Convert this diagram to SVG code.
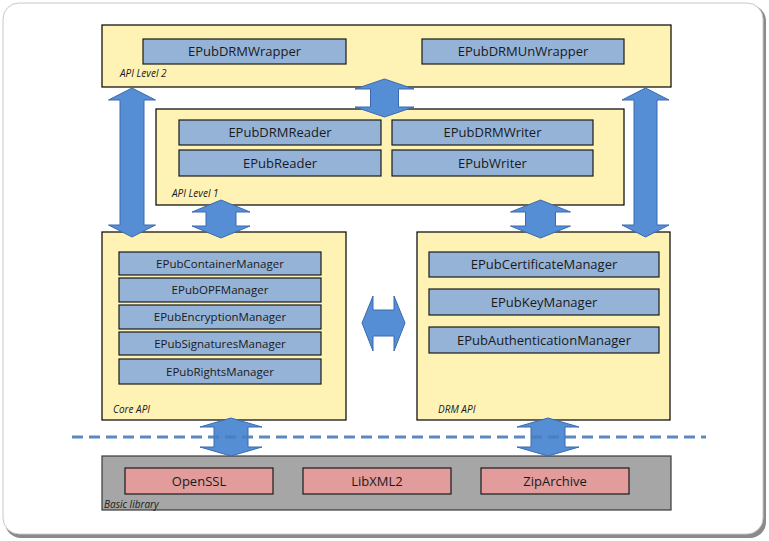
<svg xmlns="http://www.w3.org/2000/svg" width="769" height="541" viewBox="0 0 769 541">
<style>
.layer{fill:#FFF2B5;stroke:#000;stroke-width:1.2}
.item{fill:#95B3D7;stroke:#1a1a1a;stroke-width:1.2}
.lib{fill:#E39C9C;stroke:#1a1a1a;stroke-width:1.2}
.base{fill:#A6A6A6;stroke:#3a3a3a;stroke-width:1.2}
.arrow{fill:#558ED5;stroke:#3A6AAE;stroke-width:1}
.t{font-family:"Open Sans","Noto Sans",sans-serif;font-size:13px;fill:#1a1a1a;text-anchor:middle}
.ts{font-family:"Open Sans","Noto Sans",sans-serif;font-size:11.5px;fill:#1a1a1a;text-anchor:middle}
.lbl{font-family:"Open Sans","Noto Sans",sans-serif;font-size:10px;font-style:italic;fill:#1a1a1a}
</style>
<rect x="0" y="0" width="769" height="541" fill="#fff"/>
<rect x="5" y="5" width="761" height="533" rx="16" fill="#8a8a8a"/>
<rect x="3" y="3" width="760" height="531" rx="16" fill="#fff" stroke="#c8c8c8" stroke-width="1"/>

<g id="api-level-2">
<rect class="layer" x="102" y="25" width="569" height="62"/>
<text class="lbl" x="120" y="77">API Level 2</text>
</g>
<g id="epub-drm-wrapper"><rect class="item" x="143" y="39" width="203" height="25"/><text class="t" x="244.5" y="56">EPubDRMWrapper</text></g>
<g id="epub-drm-unwrapper"><rect class="item" x="422" y="39" width="202" height="25"/><text class="t" x="523" y="56">EPubDRMUnWrapper</text></g>

<g id="api-level-1">
<rect class="layer" x="156" y="109" width="468" height="96"/>
<text class="lbl" x="172" y="197">API Level 1</text>
</g>
<g id="epub-drm-reader"><rect class="item" x="179" y="120" width="202" height="25"/><text class="t" x="280" y="137">EPubDRMReader</text></g>
<g id="epub-reader"><rect class="item" x="179" y="150" width="202" height="26"/><text class="t" x="280" y="168">EPubReader</text></g>
<g id="epub-drm-writer"><rect class="item" x="392" y="120" width="201" height="25"/><text class="t" x="492.5" y="137">EPubDRMWriter</text></g>
<g id="epub-writer"><rect class="item" x="392" y="150" width="201" height="26"/><text class="t" x="492.5" y="168">EPubWriter</text></g>

<g id="core-api">
<rect class="layer" x="102" y="232" width="244" height="188"/>
<text class="lbl" x="113" y="413">Core API</text>
</g>
<g id="epub-container-manager"><rect class="item" x="119" y="252" width="202" height="23"/><text class="ts" x="220" y="268">EPubContainerManager</text></g>
<g id="epub-opf-manager"><rect class="item" x="119" y="278" width="202" height="24"/><text class="ts" x="220" y="294">EPubOPFManager</text></g>
<g id="epub-encryption-manager"><rect class="item" x="119" y="305" width="202" height="24"/><text class="ts" x="220" y="321">EPubEncryptionManager</text></g>
<g id="epub-signatures-manager"><rect class="item" x="119" y="332" width="202" height="23"/><text class="ts" x="220" y="348">EPubSignaturesManager</text></g>
<g id="epub-rights-manager"><rect class="item" x="119" y="359" width="202" height="25"/><text class="ts" x="220" y="376">EPubRightsManager</text></g>

<g id="drm-api">
<rect class="layer" x="417" y="232" width="253" height="188"/>
<text class="lbl" x="438" y="413">DRM API</text>
</g>
<g id="epub-certificate-manager"><rect class="item" x="429" y="252" width="230" height="25"/><text class="t" x="544" y="269">EPubCertificateManager</text></g>
<g id="epub-key-manager"><rect class="item" x="429" y="289" width="230" height="26"/><text class="t" x="544" y="307">EPubKeyManager</text></g>
<g id="epub-authentication-manager"><rect class="item" x="429" y="327" width="230" height="26"/><text class="t" x="544" y="345">EPubAuthenticationManager</text></g>

<g id="basic-library">
<rect class="base" x="102" y="456" width="569" height="54"/>
<text class="lbl" x="104" y="508">Basic library</text>
</g>
<g id="openssl"><rect class="lib" x="125" y="468" width="148" height="26"/><text class="t" x="199" y="486">OpenSSL</text></g>
<g id="libxml2"><rect class="lib" x="303" y="468" width="148" height="26"/><text class="t" x="377" y="486">LibXML2</text></g>
<g id="ziparchive"><rect class="lib" x="481" y="468" width="148" height="26"/><text class="t" x="555" y="486">ZipArchive</text></g>

<g id="connectors">
<polygon class="arrow" points="132,88 155.5,100 144,100 144,225 155.5,225 132,237 108.5,225 120,225 120,100 108.5,100"/>
<polygon class="arrow" points="645.5,88 669,100 657,100 657,225 669,225 645.5,237 622,225 634,225 634,100 622,100"/>
<polygon class="arrow" points="384.5,79 414,89 398.5,89 398.5,107 414,107 384.5,117 355,107 370.5,107 370.5,89 355,89"/>
<polygon class="arrow" points="221,200 250,212 236,212 236,226 250,226 221,238 192,226 206,226 206,212 192,212"/>
<polygon class="arrow" points="540.5,200 570.5,212 555.5,212 555.5,226 570.5,226 540.5,238 510.5,226 525.5,226 525.5,212 510.5,212"/>
<polygon class="arrow" points="362,323 373,296 373,310 394,310 394,296 405,323 394,351 394,336 373,336 373,351"/>
<polygon class="arrow" points="231,418 262,427 248,427 248,447 262,447 231,456 200,447 214,447 214,427 200,427"/>
<polygon class="arrow" points="548,418 579,427 565,427 565,447 579,447 548,456 517,447 531,447 531,427 517,427"/>
<line x1="72" y1="437" x2="706" y2="437" stroke="#4A7EBB" stroke-width="3" stroke-dasharray="11,6" opacity="0.9"/>
</g>
</svg>
